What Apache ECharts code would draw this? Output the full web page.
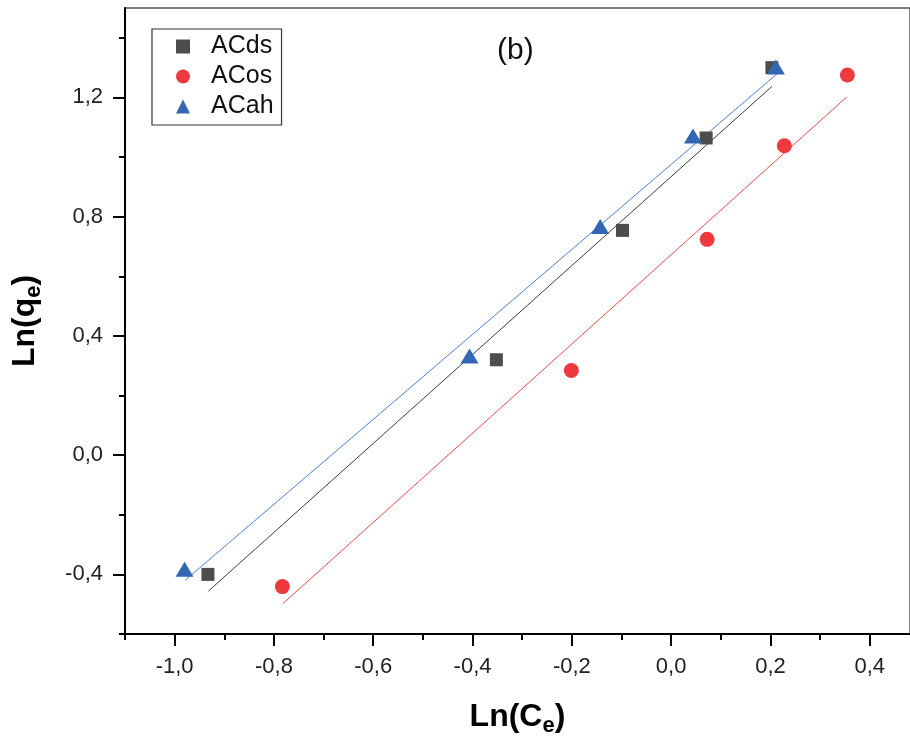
<!DOCTYPE html>
<html>
<head>
<meta charset="utf-8">
<script src="https://cdn.jsdelivr.net/npm/echarts@6/dist/echarts.min.js"></script>
<style>
html,body{margin:0;padding:0;background:#fff;}
#chart{width:910px;height:742px;}
</style>
</head>
<body>
<div id="chart"></div>
<script>
const seriesNames = ['ACds', 'ACos', 'ACah'];
const dsX = [-0.933, -0.352, -0.098, 0.0705, 0.203];
const dsY = [-0.400, 0.320, 0.754, 1.064, 1.300];
const osX = [-0.783, -0.201, 0.0725, 0.228, 0.355];
const osY = [-0.441, 0.284, 0.724, 1.038, 1.275];
const ahX = [-0.980, -0.406, -0.143, 0.044, 0.211];
const ahY = [-0.383, 0.333, 0.767, 1.071, 1.302];
const dsFitX = [-0.932, 0.203];
const dsFitY = [-0.456, 1.237];
const osFitX = [-0.782, 0.354];
const osFitY = [-0.498, 1.202];
const ahFitX = [-0.979, 0.2126];
const ahFitY = [-0.420, 1.278];
const xMajor = [-1.0, -0.8, -0.6, -0.4, -0.2, 0.0, 0.2, 0.4];
const xMinor = [-1.1, -0.9, -0.7, -0.5, -0.3, -0.1, 0.1, 0.3];
const yMajor = [-0.4, 0.0, 0.4, 0.8, 1.2];
const yMinor = [-0.6, -0.2, 0.2, 0.6, 1.0, 1.4];

const zip = (a, b) => a.map((v, i) => [v, b[i]]);
const fmt = v => (Math.abs(v) < 1e-9 ? 0 : v).toFixed(1).replace('.', ',');
const FONT = "'Liberation Sans', Arial, sans-serif";
const AX = '#000';
const LBL = '#222';

const chart = echarts.init(document.getElementById('chart'), null, {renderer: 'canvas'});
// the reference is cropped at the right edge: the x axis runs past 0,4 up to the window border
const xBase = {type: 'value', min: -1.1, max: 0.4811, position: 'bottom', splitLine: {show: false}};
const yBase = {type: 'value', min: -0.6, max: 1.5, position: 'left', splitLine: {show: false}};

chart.setOption({
  animation: false,
  backgroundColor: '#fff',
  title: {
    text: '(b)', left: 492, top: 31,
    textStyle: {fontFamily: FONT, fontSize: 30, fontWeight: 'normal', color: '#111'}
  },
  grid: {left: 125, top: 8, width: 785, height: 630, show: true, borderColor: '#555', borderWidth: 1.5, backgroundColor: 'transparent'},
  legend: {
    orient: 'vertical', left: 152, top: 29,
    padding: [5, 8, 6, 24],
    borderColor: '#333', borderWidth: 1.2,
    itemWidth: 14, itemHeight: 14, itemGap: 5,
    textStyle: {fontFamily: FONT, fontSize: 25, color: '#111', padding: [0, 0, 0, 16]},
    data: [
      {name: seriesNames[0], icon: 'rect'},
      {name: seriesNames[1], icon: 'circle'},
      {name: seriesNames[2], icon: 'triangle'}
    ]
  },
  xAxis: [
    Object.assign({}, xBase, {
      axisLine: {show: true, onZero: false, lineStyle: {color: AX, width: 2}},
      axisTick: {show: true, customValues: xMajor, length: 12, lineStyle: {color: AX, width: 2}},
      axisLabel: {show: true, customValues: xMajor, formatter: fmt, margin: 22,
        fontFamily: FONT, fontSize: 22, color: LBL},
      name: '{m|Ln(C}{s|e}{m|)}', nameLocation: 'middle', nameGap: 67,
      nameTextStyle: {
        rich: {
          m: {fontFamily: FONT, fontSize: 32, fontWeight: 'bold', color: '#000', lineHeight: 36, verticalAlign: 'top'},
          s: {fontFamily: FONT, fontSize: 22, fontWeight: 'bold', color: '#000', verticalAlign: 'bottom'}
        }
      }
    }),
    Object.assign({}, xBase, {
      axisLine: {show: false, onZero: false},
      axisTick: {show: true, customValues: xMinor, length: 6, lineStyle: {color: AX, width: 2}},
      axisLabel: {show: false}
    })
  ],
  yAxis: [
    Object.assign({}, yBase, {
      axisLine: {show: true, onZero: false, lineStyle: {color: AX, width: 2}},
      axisTick: {show: true, customValues: yMajor, length: 12, lineStyle: {color: AX, width: 2}},
      axisLabel: {show: true, customValues: yMajor, formatter: fmt, margin: 22,
        fontFamily: FONT, fontSize: 22, color: LBL},
      name: '{m|Ln(q}{s|e}{m|)}', nameLocation: 'middle', nameGap: 80,
      nameTextStyle: {
        rich: {
          m: {fontFamily: FONT, fontSize: 32, fontWeight: 'bold', color: '#000', lineHeight: 36, verticalAlign: 'top'},
          s: {fontFamily: FONT, fontSize: 22, fontWeight: 'bold', color: '#000', verticalAlign: 'bottom'}
        }
      }
    }),
    Object.assign({}, yBase, {
      axisLine: {show: false, onZero: false},
      axisTick: {show: true, customValues: yMinor, length: 6, lineStyle: {color: AX, width: 2}},
      axisLabel: {show: false}
    })
  ],
  series: [
    {name: 'fitDs', type: 'line', xAxisIndex: 0, yAxisIndex: 0, data: zip(dsFitX, dsFitY), showSymbol: false, symbol: 'none',
      lineStyle: {color: '#3c3c3c', width: 1}, silent: true, z: 2},
    {name: 'fitOs', type: 'line', xAxisIndex: 0, yAxisIndex: 0, data: zip(osFitX, osFitY), showSymbol: false, symbol: 'none',
      lineStyle: {color: '#f24a4a', width: 1}, silent: true, z: 2},
    {name: 'fitAh', type: 'line', xAxisIndex: 0, yAxisIndex: 0, data: zip(ahFitX, ahFitY), showSymbol: false, symbol: 'none',
      lineStyle: {color: '#4a7fcc', width: 1}, silent: true, z: 2},
    {name: seriesNames[0], type: 'scatter', xAxisIndex: 0, yAxisIndex: 0, data: zip(dsX, dsY),
      symbol: 'rect', symbolSize: 13, itemStyle: {color: '#4d4d4d', opacity: 1}, z: 3},
    {name: seriesNames[1], type: 'scatter', xAxisIndex: 0, yAxisIndex: 0, data: zip(osX, osY),
      symbol: 'circle', symbolSize: 15, itemStyle: {color: '#ec3a3f', opacity: 1}, z: 3},
    {name: seriesNames[2], type: 'scatter', xAxisIndex: 0, yAxisIndex: 0, data: zip(ahX, ahY),
      symbol: 'triangle', symbolSize: [18, 15], itemStyle: {color: '#3466b6', opacity: 1}, z: 3}
  ]
});
</script>
</body>
</html>
